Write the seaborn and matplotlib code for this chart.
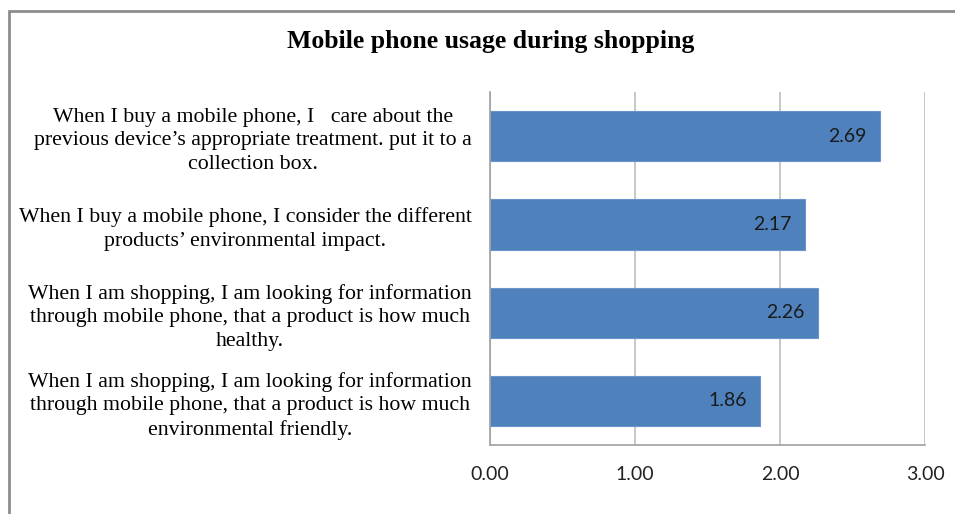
import matplotlib
matplotlib.use("Agg")
import matplotlib.pyplot as plt
import seaborn as sns
import pandas as pd
from matplotlib.patches import Rectangle

# Veriler (yukaridan asagiya)
statements = [
    "When I buy a mobile phone, I   care about the\nprevious device’s appropriate treatment. put it to a\ncollection box.",
    "When I buy a mobile phone, I consider the different\nproducts’ environmental impact.",
    "When I am shopping, I am looking for information\nthrough mobile phone, that a product is how much\nhealthy.",
    "When I am shopping, I am looking for information\nthrough mobile phone, that a product is how much\nenvironmental friendly.",
]
scores = [2.69, 2.17, 2.26, 1.86]
x_ticks = [0, 1, 2, 3]

df = pd.DataFrame({"statement": statements, "score": scores})

sns.set_style("white")
plt.rcParams["font.family"] = ["Liberation Serif", "DejaVu Serif"]

fig = plt.figure(figsize=(9.55, 5.14), dpi=100)
ax = fig.add_axes([0.513, 0.134, 0.4557, 0.687])

sns.barplot(data=df, x="score", y="statement", orient="h", color="#4F81BD",
            saturation=1, width=0.57, edgecolor="#6A95CA", linewidth=0.8, ax=ax)

# Cubuk uzerindeki degerler
for c in ax.containers:
    texts = ax.bar_label(c, labels=[f"{v:.2f}" for v in scores], padding=-9.5,
                         fontsize=14, color="#1A1A1A", family="Lato")
    for t in texts:
        t.set_ha("right")

ax.set_xlim(0, 3)
ax.set_xticks(x_ticks)
ax.set_xticklabels([f"{t:.2f}" for t in x_ticks], family="Lato", fontsize=14)
ax.xaxis.grid(True, color="#BEBEBE", linewidth=1.2)
ax.set_axisbelow(True)
ax.tick_params(axis="x", length=0, pad=15, colors="#222222")
ax.tick_params(axis="y", length=0, pad=13)
for lbl in ax.get_yticklabels():
    lbl.set_multialignment("center")
    lbl.set_fontsize(15.7)
    lbl.set_linespacing(1.32)
    lbl.set_color("black")
ax.set_xlabel("")
ax.set_ylabel("")

for side in ["top", "right"]:
    ax.spines[side].set_visible(False)
for side in ["left", "bottom"]:
    ax.spines[side].set_color("#A0A0A0")
    ax.spines[side].set_linewidth(1.2)

fig.text(0.514, 0.92, "Mobile phone usage during shopping", ha="center", va="center",
         fontsize=18.5, fontweight="bold", color="black")

# Dis cerceve
fig.patches.append(Rectangle((0.009, -0.05), 1.2, 1.029, transform=fig.transFigure,
                             fill=False, edgecolor="#8C8C8C", linewidth=2))

plt.savefig("out.png", dpi=100)
